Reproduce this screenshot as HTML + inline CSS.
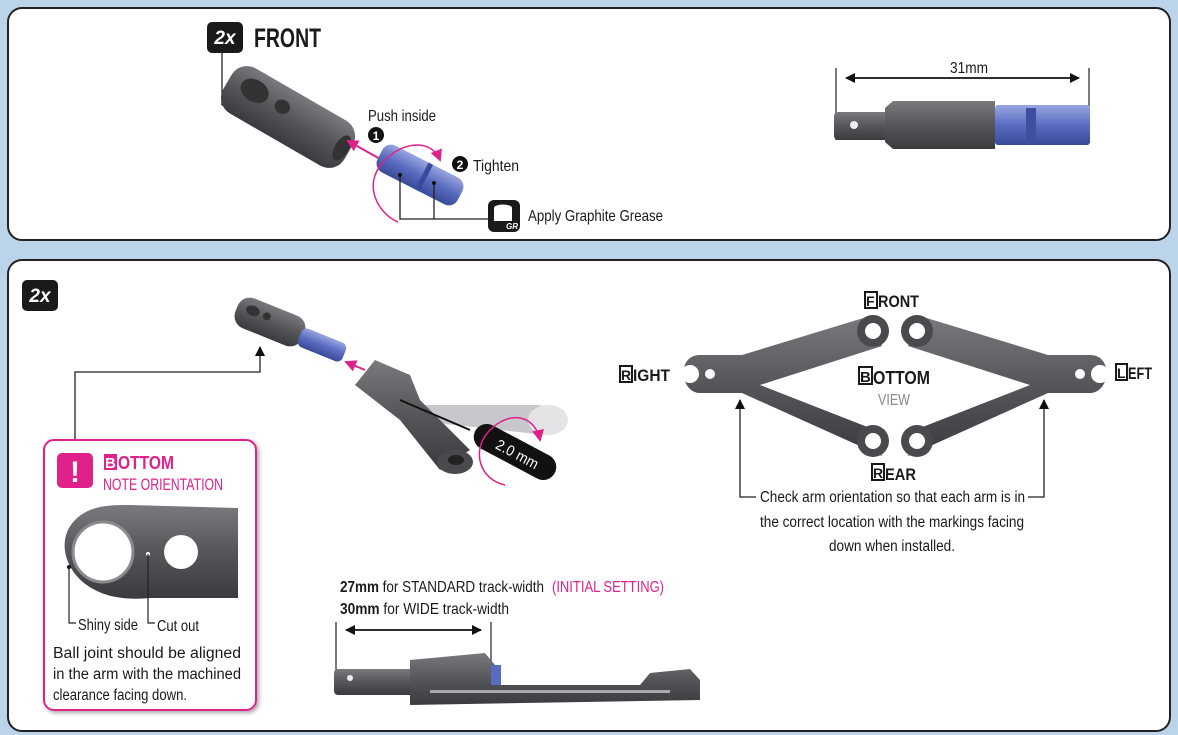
<!DOCTYPE html>
<html><head><meta charset="utf-8"><style>
html,body{margin:0;padding:0;background:#bcd4ea;}
svg{display:block;}
text{font-family:"Liberation Sans",sans-serif;}
</style></head><body>
<svg width="1178" height="735" viewBox="0 0 1178 735" xmlns="http://www.w3.org/2000/svg">
<defs>
<linearGradient id="g" x1="0" y1="0" x2="0" y2="1"><stop offset="0" stop-color="#7a7a7e"/><stop offset=".5" stop-color="#55565a"/><stop offset="1" stop-color="#3a3b3e"/></linearGradient>
<linearGradient id="b" x1="0" y1="0" x2="0" y2="1"><stop offset="0" stop-color="#9aa6e0"/><stop offset=".5" stop-color="#5a6cc0"/><stop offset="1" stop-color="#3a4a9a"/></linearGradient>
<marker id="ak" markerWidth="10" markerHeight="10" refX="9" refY="5" orient="auto" markerUnits="userSpaceOnUse"><path d="M0,0 L10,5 L0,10z" fill="#111"/></marker>
<marker id="ap" markerWidth="12" markerHeight="12" refX="10" refY="6" orient="auto" markerUnits="userSpaceOnUse"><path d="M0,0 L12,6 L0,12z" fill="#e0218a"/></marker>
<filter id="sh"><feDropShadow dx="2" dy="2" stdDeviation="2" flood-opacity=".35"/></filter>
</defs>
<rect x="8" y="8" width="1162" height="232" rx="14" fill="#fff" stroke="#222" stroke-width="2"/>
<rect x="8" y="260" width="1162" height="471" rx="14" fill="#fff" stroke="#222" stroke-width="2"/>

<!-- TOP -->
<rect x="207" y="22" width="36" height="31" rx="5" fill="#1a1a1a"/>
<text x="225" y="44" fill="#fff" font-size="19" font-weight="bold" font-style="italic" text-anchor="middle">2x</text>
<text x="254" y="47" font-size="27" font-weight="bold" fill="#1a1a1a" textLength="67" lengthAdjust="spacingAndGlyphs">FRONT</text>
<polyline points="222,53 222,105 252,105" fill="none" stroke="#222" stroke-width="1.3"/>
<g transform="translate(288,117) rotate(30)">
<rect x="-70" y="-26" width="140" height="52" rx="18" fill="url(#g)"/>
<ellipse cx="-42" cy="-6" rx="15" ry="11" fill="#333"/><ellipse cx="-10" cy="-6" rx="8" ry="7" fill="#333"/>
<ellipse cx="62" cy="0" rx="7" ry="14" fill="#333"/>
</g>
<line x1="382" y1="160" x2="348" y2="141" stroke="#e0218a" stroke-width="2" marker-end="url(#ap)"/>
<g transform="translate(420,175) rotate(27)">
<rect x="-45" y="-15" width="90" height="30" rx="10" fill="url(#b)"/>
<rect x="2" y="-15" width="5" height="30" fill="#3a4a9a"/>
</g>
<path d="M385,160 C360,185 380,215 398,222" fill="none" stroke="#e0218a" stroke-width="1.5"/>
<path d="M385,160 C405,140 432,140 440,160" fill="none" stroke="#e0218a" stroke-width="1.5" marker-end="url(#ap)"/>
<text x="368" y="121" font-size="16" fill="#1a1a1a" textLength="68" lengthAdjust="spacingAndGlyphs">Push inside</text>
<circle cx="376" cy="135" r="8" fill="#111"/><text x="376" y="140" font-size="12" font-weight="bold" fill="#fff" text-anchor="middle">1</text>
<circle cx="460" cy="164" r="8" fill="#111"/><text x="460" y="169" font-size="12" font-weight="bold" fill="#fff" text-anchor="middle">2</text>
<text x="473" y="171" font-size="16" fill="#1a1a1a" textLength="46" lengthAdjust="spacingAndGlyphs">Tighten</text>
<polyline points="400,175 400,219 488,219" fill="none" stroke="#222" stroke-width="1.3"/>
<line x1="434" y1="183" x2="434" y2="219" stroke="#222" stroke-width="1.3"/>
<circle cx="400" cy="175" r="2" fill="#111"/><circle cx="434" cy="183" r="2" fill="#111"/>
<rect x="488" y="200" width="32" height="32" rx="6" fill="#1a1a1a"/>
<ellipse cx="503" cy="208" rx="9" ry="3.5" fill="#fff"/><rect x="494" y="208" width="18" height="13" fill="#fff"/>
<text x="506" y="229" font-size="8" font-weight="bold" font-style="italic" fill="#fff">GR</text>
<text x="528" y="221" font-size="16" fill="#1a1a1a" textLength="135" lengthAdjust="spacingAndGlyphs">Apply Graphite Grease</text>

<line x1="836" y1="68" x2="836" y2="140" stroke="#222" stroke-width="1.2"/>
<line x1="1089" y1="68" x2="1089" y2="140" stroke="#222" stroke-width="1.2"/>
<line x1="846" y1="78" x2="1079" y2="78" stroke="#111" stroke-width="1.5" marker-end="url(#ak)"/>
<line x1="1079" y1="78" x2="846" y2="78" stroke="#111" stroke-width="1.5" marker-end="url(#ak)"/>
<text x="950" y="73" font-size="16" fill="#1a1a1a" textLength="38" lengthAdjust="spacingAndGlyphs">31mm</text>
<rect x="834" y="112" width="55" height="28" rx="4" fill="url(#g)"/>
<circle cx="854" cy="125" r="4" fill="#eee"/>
<path d="M885,108 L893,101 L995,101 L995,149 L893,149 L885,142z" fill="url(#g)"/>
<rect x="995" y="105" width="95" height="40" rx="3" fill="url(#b)"/>
<rect x="1026" y="108" width="10" height="34" fill="#3f4f9f"/>

<!-- BOTTOM -->
<rect x="22" y="280" width="36" height="31" rx="5" fill="#1a1a1a"/>
<text x="40" y="302" fill="#fff" font-size="19" font-weight="bold" font-style="italic" text-anchor="middle">2x</text>
<g transform="translate(270,322) rotate(22)">
<rect x="-36" y="-16" width="72" height="32" rx="13" fill="url(#g)"/>
<ellipse cx="-20" cy="-4" rx="7" ry="5" fill="#333"/><ellipse cx="-5" cy="-4" rx="4" ry="4" fill="#333"/>
</g>
<g transform="translate(322,345) rotate(22)"><rect x="-24" y="-10" width="48" height="20" rx="6" fill="url(#b)"/></g>
<line x1="365" y1="370" x2="346" y2="362" stroke="#e0218a" stroke-width="2" marker-end="url(#ap)"/>
<polyline points="75,440 75,372 260,372 260,347" fill="none" stroke="#222" stroke-width="1.3" marker-end="url(#ak)"/>
<path d="M395,405 L540,405 L560,420 L545,435 L410,420z" fill="#c8c8cc"/>
<ellipse cx="548" cy="420" rx="20" ry="15" fill="#e4e4e6"/>
<path d="M355,385 L375,360 L410,375 L420,400 L470,450 L440,470 L400,420 z" fill="url(#g)"/>
<ellipse cx="455" cy="462" rx="18" ry="12" fill="#4a4a4e"/><ellipse cx="456" cy="460" rx="8" ry="5" fill="#222"/>
<line x1="400" y1="400" x2="470" y2="430" stroke="#111" stroke-width="2"/>
<g transform="translate(515,452) rotate(28)"><rect x="-45" y="-13" width="90" height="26" rx="13" fill="#111"/>
<text x="-20" y="6" font-size="15" fill="#fff" textLength="46" lengthAdjust="spacingAndGlyphs">2.0 mm</text></g>
<path d="M490,430 C470,450 480,480 505,485" fill="none" stroke="#e0218a" stroke-width="1.5"/>
<path d="M490,430 C510,410 535,415 540,440" fill="none" stroke="#e0218a" stroke-width="1.5" marker-end="url(#ap)"/>

<rect x="44" y="440" width="212" height="270" rx="10" fill="#fff" stroke="#e0218a" stroke-width="2" filter="url(#sh)"/>
<rect x="57" y="453" width="36" height="35" rx="5" fill="#e0218a"/>
<text x="75" y="482" font-size="30" font-weight="bold" fill="#fff" text-anchor="middle">!</text>
<rect x="104" y="454" width="13" height="16" fill="#e0218a"/><text x="105" y="468" font-size="15" font-weight="bold" fill="#fff">B</text>
<text x="118" y="469" font-size="18" font-weight="bold" fill="#e0218a" textLength="56" lengthAdjust="spacingAndGlyphs">OTTOM</text>
<text x="103" y="490" font-size="17" fill="#e0218a" textLength="120" lengthAdjust="spacingAndGlyphs">NOTE ORIENTATION</text>
<path d="M238,508 L238,598 L150,598 C130,600 110,598 95,590 C65,575 55,540 75,520 C90,505 110,505 130,505 Z" fill="url(#g)"/>
<circle cx="103" cy="552" r="30" fill="#fff" stroke="#8a8a8e" stroke-width="3"/>
<circle cx="181" cy="552" r="17" fill="#fff"/>
<circle cx="69" cy="567" r="2" fill="#111"/><circle cx="148" cy="554" r="2" fill="#fff"/>
<polyline points="69,567 69,623 76,623" fill="none" stroke="#222" stroke-width="1.2"/>
<polyline points="148,554 148,623 155,623" fill="none" stroke="#222" stroke-width="1.2"/>
<text x="78" y="630" font-size="16" fill="#1a1a1a" textLength="60" lengthAdjust="spacingAndGlyphs">Shiny side</text>
<text x="157" y="631" font-size="16" fill="#1a1a1a" textLength="42" lengthAdjust="spacingAndGlyphs">Cut out</text>
<text x="53" y="658" font-size="15.5" fill="#1a1a1a" textLength="188" lengthAdjust="spacingAndGlyphs">Ball joint should be aligned</text>
<text x="53" y="679" font-size="15.5" fill="#1a1a1a" textLength="188" lengthAdjust="spacingAndGlyphs">in the arm with the machined</text>
<text x="53" y="700" font-size="15.5" fill="#1a1a1a" textLength="134" lengthAdjust="spacingAndGlyphs">clearance facing down.</text>

<text x="340" y="592" font-size="16" fill="#1a1a1a" textLength="204" lengthAdjust="spacingAndGlyphs"><tspan font-weight="bold">27mm</tspan> for STANDARD track-width</text>
<text x="552" y="592" font-size="16" fill="#e0218a" textLength="112" lengthAdjust="spacingAndGlyphs">(INITIAL SETTING)</text>
<text x="340" y="614" font-size="16" fill="#1a1a1a" textLength="169" lengthAdjust="spacingAndGlyphs"><tspan font-weight="bold">30mm</tspan> for WIDE track-width</text>
<line x1="336" y1="622" x2="336" y2="690" stroke="#222" stroke-width="1.2"/>
<line x1="491" y1="622" x2="491" y2="680" stroke="#222" stroke-width="1.2"/>
<line x1="346" y1="630" x2="481" y2="630" stroke="#111" stroke-width="1.5" marker-end="url(#ak)"/>
<line x1="481" y1="630" x2="346" y2="630" stroke="#111" stroke-width="1.5" marker-end="url(#ak)"/>
<rect x="334" y="669" width="90" height="26" rx="4" fill="url(#g)"/>
<circle cx="350" cy="678" r="3" fill="#eee"/>
<path d="M410,660 L485,653 L495,665 L495,685 L640,685 L650,673 L690,669 L700,680 L700,700 L410,705z" fill="url(#g)"/>
<rect x="491" y="665" width="10" height="20" fill="#5a6cc0"/>
<rect x="430" y="690" width="240" height="3" fill="#aaa"/>

<path d="M700,355 L742,355 L870,316 L882,346 L760,385 L870,428 L882,456 L742,393 L700,393 C680,393 676,355 700,355Z" fill="url(#g)"/>
<circle cx="873" cy="331" r="16" fill="#4a4a4e"/><circle cx="873" cy="331" r="8" fill="#fff"/>
<circle cx="873" cy="441" r="16" fill="#4a4a4e"/><circle cx="873" cy="441" r="8" fill="#fff"/>
<circle cx="690" cy="374" r="9" fill="#fff"/><circle cx="710" cy="374" r="5" fill="#fff"/>
<path d="M1090,355 L1048,355 L920,316 L908,346 L1030,385 L920,428 L908,456 L1048,393 L1090,393 C1110,393 1114,355 1090,355Z" fill="url(#g)"/>
<circle cx="917" cy="331" r="16" fill="#4a4a4e"/><circle cx="917" cy="331" r="8" fill="#fff"/>
<circle cx="917" cy="441" r="16" fill="#4a4a4e"/><circle cx="917" cy="441" r="8" fill="#fff"/>
<circle cx="1100" cy="374" r="9" fill="#fff"/><circle cx="1080" cy="374" r="5" fill="#fff"/>

<rect x="865" y="292" width="12" height="16" fill="#fff" stroke="#1a1a1a" stroke-width="2"/><text x="866" y="306" font-size="14" font-weight="bold" fill="#1a1a1a">F</text>
<text x="878" y="307" font-size="17" font-weight="bold" fill="#1a1a1a" textLength="41" lengthAdjust="spacingAndGlyphs">RONT</text>
<rect x="620" y="366" width="12" height="16" fill="#fff" stroke="#1a1a1a" stroke-width="2"/><text x="621" y="380" font-size="14" font-weight="bold" fill="#1a1a1a">R</text>
<text x="633" y="381" font-size="17" font-weight="bold" fill="#1a1a1a" textLength="37" lengthAdjust="spacingAndGlyphs">IGHT</text>
<rect x="1116" y="364" width="11" height="16" fill="#fff" stroke="#1a1a1a" stroke-width="2"/><text x="1117" y="378" font-size="14" font-weight="bold" fill="#1a1a1a">L</text>
<text x="1128" y="379" font-size="17" font-weight="bold" fill="#1a1a1a" textLength="24" lengthAdjust="spacingAndGlyphs">EFT</text>
<rect x="859" y="367" width="13" height="17" fill="#fff" stroke="#1a1a1a" stroke-width="2"/><text x="860" y="382" font-size="15" font-weight="bold" fill="#1a1a1a">B</text>
<text x="873" y="384" font-size="18" font-weight="bold" fill="#1a1a1a" textLength="57" lengthAdjust="spacingAndGlyphs">OTTOM</text>
<text x="878" y="405" font-size="16" fill="#888" textLength="32" lengthAdjust="spacingAndGlyphs">VIEW</text>
<rect x="872" y="464" width="12" height="16" fill="#fff" stroke="#1a1a1a" stroke-width="2"/><text x="873" y="478" font-size="14" font-weight="bold" fill="#1a1a1a">R</text>
<text x="885" y="480" font-size="17" font-weight="bold" fill="#1a1a1a" textLength="31" lengthAdjust="spacingAndGlyphs">EAR</text>

<polyline points="756,497 740,497 740,400" fill="none" stroke="#222" stroke-width="1.3" marker-end="url(#ak)"/>
<polyline points="1028,497 1044,497 1044,400" fill="none" stroke="#222" stroke-width="1.3" marker-end="url(#ak)"/>
<text x="760" y="502" font-size="15.5" fill="#1a1a1a" textLength="265" lengthAdjust="spacingAndGlyphs">Check arm orientation so that each arm is in</text>
<text x="760" y="527" font-size="15.5" fill="#1a1a1a" textLength="264" lengthAdjust="spacingAndGlyphs">the correct location with the markings facing</text>
<text x="829" y="551" font-size="15.5" fill="#1a1a1a" textLength="126" lengthAdjust="spacingAndGlyphs">down when installed.</text>
</svg>
</body></html>
